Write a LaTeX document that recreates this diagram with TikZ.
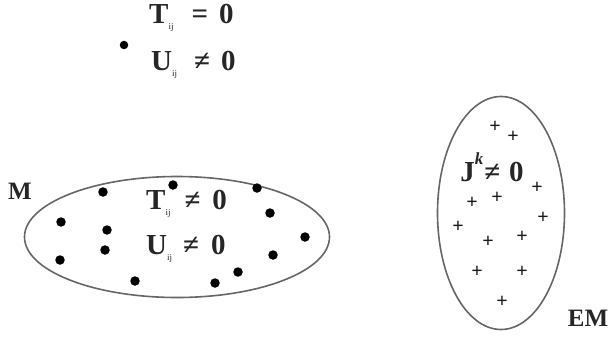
\documentclass[tikz,border=0pt]{standalone}
\usepackage{fontspec}
\setmainfont{Liberation Serif}
\usepackage{tikz}
\usetikzlibrary{shapes.geometric}

\newcommand{\subij}{\raisebox{-0.45ex}{\fontsize{9}{9}\selectfont\mdseries ij}}

\begin{document}
\begin{tikzpicture}[x=1pt,y=-1pt]
\tikzstyle{set}=[ellipse,draw=black!60,line width=1.6pt,inner sep=0pt]
\tikzstyle{particle}=[circle,fill=black,inner sep=0pt,minimum size=9.5pt]
\tikzstyle{charge}=[inner sep=0pt,font=\fontsize{20}{20}\selectfont\bfseries,text=black!90]
\tikzstyle{eq}=[anchor=west,inner sep=0pt,font=\fontsize{29}{32}\selectfont\bfseries,text=black!85]
\tikzstyle{tag}=[inner sep=0pt,font=\fontsize{25}{27}\selectfont\bfseries,text=black!85]
\useasboundingbox (0,0) rectangle (616,338);

% single particle
\node[particle,minimum size=8.5pt] (P) at (124,45) {};
\node[eq] (T0) at (149,18) {T\subij\hspace{18pt}=\hspace{11pt}0};
\node[eq] (U0) at (151,65) {U\subij\hspace{17pt}≠\hspace{11pt}0};

% matter
\node[set,minimum width=305pt,minimum height=121pt] (M) at (177,237) {};
\node[tag] (Mlab) at (20,191) {M};
\node[eq] (T1) at (146,204) {T\subij\hspace{14pt}≠\hspace{12pt}0};
\node[eq] (U1) at (146,249) {U\subij\hspace{11pt}≠\hspace{12pt}0};
\foreach \x/\y [count=\i] in {103/192,173/185,257/188,61/222,107/230,270/213,
  305/237,105/250,60/260,273/255,238/272,135/281,215/283}
  \node[particle] (m\i) at (\x,\y) {};

% electromagnetic
\node[set,minimum width=127pt,minimum height=233pt] (EM) at (501,213) {};
\node[tag] (EMlab) at (588,318) {EM};
\node[inner sep=0pt,font=\fontsize{29}{32}\selectfont\bfseries,text=black!85] (J) at (492,167) {J\raisebox{1.3ex}{\fontsize{17}{17}\selectfont\itshape k}\hspace{1pt}≠\hspace{9pt}0};
\foreach \x/\y [count=\i] in {495/127,513/137,537/188,497/198,472/203,543/218,
  458/227,488/242,522/237,477/272,522/272,502/302}
  \node[charge] (q\i) at (\x,\y) {+};
\end{tikzpicture}
\end{document}
